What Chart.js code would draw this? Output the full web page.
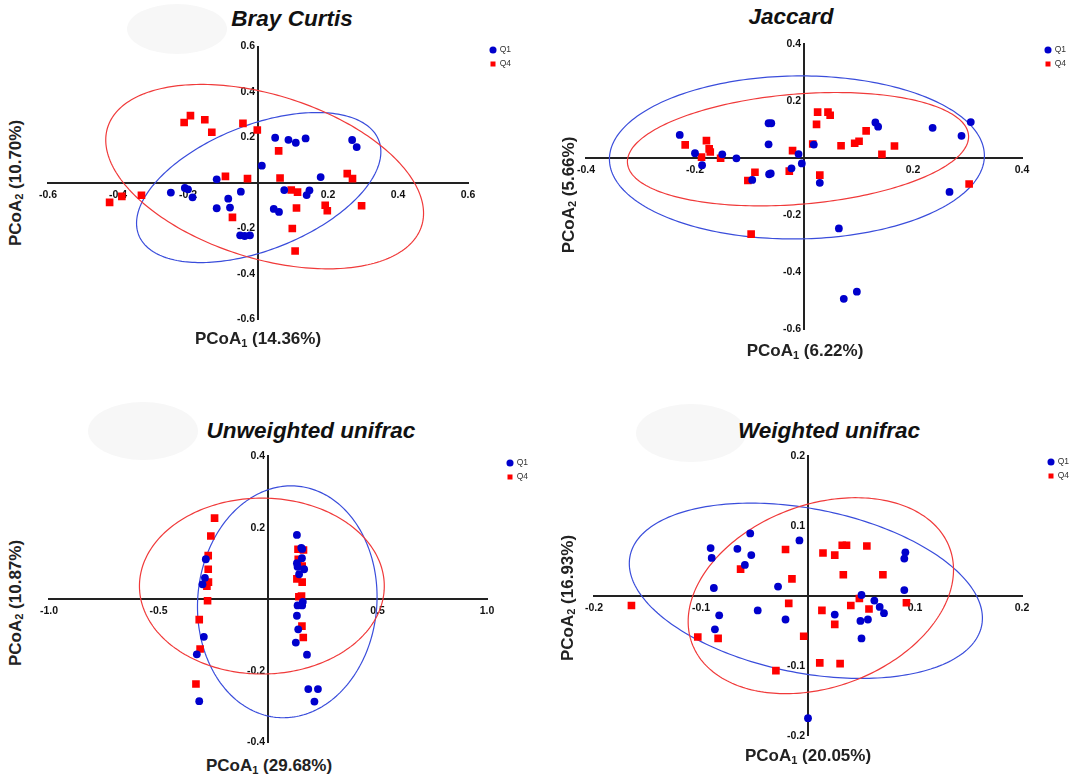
<!DOCTYPE html>
<html>
<head>
<meta charset="utf-8">
<script src="https://cdn.jsdelivr.net/npm/chart.js@4.4.1/dist/chart.umd.min.js"></script>
<style>
  body { margin: 0; background: #fff; width: 1072px; height: 778px; position: relative; overflow: hidden;
         font-family: "Liberation Sans", Arial, sans-serif; }
  canvas { position: absolute; }
  .blob { position: absolute; background: #f7f7f7; border-radius: 50%; }
  .title { position: absolute; font-weight: bold; font-style: italic; font-size: 22.5px; line-height: 22.5px;
           color: #111; transform: translateX(-50%); white-space: nowrap; }
  .xlab { position: absolute; font-weight: bold; font-size: 17px; line-height: 17px; color: #222;
          transform: translateX(-50%); white-space: nowrap; }
  .ylab { position: absolute; font-weight: bold; font-size: 17px; line-height: 17px; color: #222;
          transform: translate(-50%, -50%) rotate(-90deg); white-space: nowrap; }
  sub { font-size: 0.65em; vertical-align: -0.25em; line-height: 0; }
</style>
</head>
<body>

<div class="blob" style="left:127px;top:4px;width:100px;height:50px"></div>
<div class="blob" style="left:88px;top:402px;width:110px;height:58px"></div>
<div class="blob" style="left:636px;top:404px;width:110px;height:58px"></div>

<canvas id="bray" width="510" height="298" style="left:28px;top:34px"></canvas>
<canvas id="jaccard" width="506" height="310" style="left:566px;top:32px"></canvas>
<canvas id="unweighted" width="518" height="311" style="left:29px;top:444px"></canvas>
<canvas id="weighted" width="498" height="305" style="left:574px;top:443px"></canvas>

<div class="title" style="left:292px;top:7.5px">Bray Curtis</div>
<div class="title" style="left:791px;top:6px">Jaccard</div>
<div class="title" style="left:311px;top:420px">Unweighted unifrac</div>
<div class="title" style="left:829px;top:420px">Weighted unifrac</div>

<div class="xlab" style="left:258px;top:329.5px">PCoA<sub>1</sub> (14.36%)</div>
<div class="xlab" style="left:805px;top:341.5px">PCoA<sub>1</sub> (6.22%)</div>
<div class="xlab" style="left:269px;top:756.5px">PCoA<sub>1</sub> (29.68%)</div>
<div class="xlab" style="left:808px;top:747px">PCoA<sub>1</sub> (20.05%)</div>

<div class="ylab" style="left:15px;top:183px">PCoA<sub>2</sub> (10.70%)</div>
<div class="ylab" style="left:568px;top:195px">PCoA<sub>2</sub> (5.66%)</div>
<div class="ylab" style="left:15px;top:603px">PCoA<sub>2</sub> (10.87%)</div>
<div class="ylab" style="left:567px;top:598px">PCoA<sub>2</sub> (16.93%)</div>

<script>
// PCoA coordinates [PCoA1, PCoA2]

// Bray Curtis
const brayQ1 = [
  [-0.118, 0.016], [-0.249, -0.042], [-0.209, -0.022], [-0.200, -0.028], [-0.187, -0.063],
  [-0.085, -0.069], [-0.049, -0.038], [-0.118, -0.111], [-0.080, -0.108], [-0.051, -0.230],
  [-0.038, -0.233], [-0.023, -0.230], [0.049, 0.199], [0.087, 0.190], [0.108, 0.177],
  [0.136, 0.196], [0.269, 0.189], [0.282, 0.158], [0.011, 0.076], [0.179, 0.026],
  [0.075, -0.031], [0.147, -0.032], [0.139, -0.053], [0.045, -0.114], [0.060, -0.127]
];
const brayQ4 = [
  [-0.211, 0.266], [-0.193, 0.296], [-0.152, 0.278], [-0.132, 0.223], [-0.043, 0.262],
  [-0.002, 0.233], [-0.093, 0.029], [-0.030, 0.019], [-0.333, -0.054], [-0.389, -0.059],
  [-0.424, -0.085], [-0.073, -0.151], [0.059, 0.141], [0.063, 0.022], [0.095, -0.031],
  [0.113, -0.040], [0.110, -0.110], [0.192, -0.098], [0.198, -0.122], [0.098, -0.200],
  [0.255, 0.041], [0.270, 0.019], [0.296, -0.100], [0.106, -0.299]
];

// Jaccard
const jaccardQ1 = [
  [-0.228, 0.082], [-0.200, 0.018], [-0.187, -0.024], [-0.150, 0.014], [-0.124, 0.000],
  [-0.065, 0.123], [-0.060, 0.123], [-0.065, 0.049], [-0.095, -0.076], [-0.064, -0.056],
  [-0.061, -0.053], [-0.023, -0.035], [-0.010, 0.015], [0.018, 0.048], [-0.004, -0.018],
  [0.029, -0.086], [0.131, 0.126], [0.136, 0.111], [0.236, 0.107], [0.289, 0.079],
  [0.306, 0.127], [0.267, -0.118], [0.064, -0.246], [0.097, -0.468], [0.073, -0.493]
];
const jaccardQ4 = [
  [-0.218, 0.047], [-0.179, 0.062], [-0.174, 0.033], [-0.172, 0.022], [-0.188, 0.004],
  [-0.153, 0.000], [-0.090, -0.049], [-0.103, -0.078], [-0.021, 0.027], [-0.027, -0.045],
  [0.025, 0.162], [0.044, 0.162], [0.048, 0.151], [0.023, 0.119], [0.016, 0.050],
  [0.068, 0.044], [0.093, 0.053], [0.101, 0.060], [0.114, 0.096], [0.143, 0.014],
  [0.166, 0.043], [0.029, -0.059], [0.303, -0.090], [-0.097, -0.266]
];

// Unweighted unifrac
const unweightedQ1 = [
  [-0.284, 0.112], [-0.288, 0.060], [-0.299, 0.042], [-0.293, -0.105], [-0.325, -0.154],
  [-0.314, -0.285], [0.132, 0.180], [0.152, 0.144], [0.156, 0.141], [0.155, 0.115],
  [0.132, 0.101], [0.135, 0.091], [0.165, 0.084], [0.142, 0.070], [0.135, -0.017],
  [0.156, -0.017], [0.159, -0.007], [0.132, -0.046], [0.138, -0.084], [0.127, -0.121],
  [0.178, -0.155], [0.184, -0.251], [0.228, -0.251], [0.212, -0.286]
];
const unweightedQ4 = [
  [-0.244, 0.227], [-0.261, 0.177], [-0.273, 0.122], [-0.273, 0.084], [-0.272, 0.048],
  [-0.279, 0.037], [-0.276, -0.004], [-0.314, -0.057], [-0.310, -0.139], [-0.329, -0.237],
  [0.137, 0.140], [0.162, 0.138], [0.138, 0.112], [0.156, 0.093], [0.132, 0.057],
  [0.156, 0.048], [0.141, 0.007], [0.153, 0.009], [0.155, -0.075], [0.161, -0.107]
];

// Weighted unifrac
const weightedQ1 = [
  [-0.091, 0.068], [-0.090, 0.054], [-0.066, 0.067], [-0.054, 0.089], [-0.053, 0.058],
  [-0.059, 0.044], [-0.088, 0.011], [-0.028, 0.013], [-0.008, 0.079], [-0.083, -0.028],
  [-0.087, -0.048], [-0.047, -0.021], [-0.021, -0.034], [0.091, 0.062], [0.090, 0.053],
  [0.090, 0.008], [0.050, 0.001], [0.062, -0.007], [0.067, -0.016], [0.071, -0.025],
  [0.056, -0.034], [0.049, -0.036], [0.025, -0.027], [0.050, -0.061], [0.000, -0.175]
];
const weightedQ4 = [
  [-0.165, -0.014], [-0.063, 0.038], [-0.021, 0.066], [-0.015, 0.024], [-0.018, -0.011],
  [-0.103, -0.059], [-0.084, -0.061], [-0.004, -0.058], [0.014, 0.061], [0.025, 0.058],
  [0.032, 0.072], [0.036, 0.072], [0.055, 0.071], [0.033, 0.030], [0.070, 0.030],
  [0.048, -0.004], [0.040, -0.014], [0.057, -0.019], [0.092, -0.010], [0.013, -0.021],
  [0.025, -0.041], [0.011, -0.096], [0.030, -0.097], [-0.030, -0.107]
];

// 95% ellipses: [centre x, centre y, half-axis x, half-axis y, vertical half-chord]
const brayEllQ1 = [0.002, -0.020, 0.349, 0.157, 0.290];
const brayEllQ4 = [0.019, 0.028, 0.454, -0.161, 0.372];
const jaccardEllQ1 = [-0.013, 0.003, 0.344, 0.006, 0.286];
const jaccardEllQ4 = [-0.011, 0.032, 0.313, 0.044, 0.194];
const unweightedEllQ1 = [0.088, -0.007, 0.410, 0.014, 0.324];
const unweightedEllQ4 = [-0.028, 0.037, 0.559, 0.000, 0.246];
const weightedEllQ1 = [-0.002, 0.007, 0.165, -0.039, 0.119];
const weightedEllQ4 = [0.012, 0.000, 0.124, 0.037, 0.135];

// axis ranges [min, max, step]
const brayX = [-0.6, 0.6, 0.2], brayY = [-0.6, 0.6, 0.2];
const jaccardX = [-0.4, 0.4, 0.2], jaccardY = [-0.6, 0.4, 0.2];
const unweightedX = [-1.0, 1.0, 0.5], unweightedY = [-0.4, 0.4, 0.2];
const weightedX = [-0.2, 0.2, 0.1], weightedY = [-0.2, 0.2, 0.1];

const BLUE = '#0000cc';
const RED = '#ff0000';
const tickFont = { family: 'Liberation Sans', size: 10.5, weight: 'bold' };

// draw the ellipses through the chart scales
const ellipsePlugin = {
  id: 'ellipses',
  beforeDatasetsDraw(chart, args, opts) {
    const ctx = chart.ctx;
    const sx = chart.scales.x, sy = chart.scales.y;
    opts.list.forEach(function (item) {
      const e = item.e;
      ctx.save();
      ctx.strokeStyle = item.color;
      ctx.lineWidth = 1.2;
      ctx.beginPath();
      for (let i = 0; i <= 240; i++) {
        const t = i / 240 * Math.PI * 2;
        const vx = e[0] + e[2] * Math.cos(t);
        const vy = e[1] + e[3] * Math.cos(t) + e[4] * Math.sin(t);
        const px = sx.getPixelForValue(vx), py = sy.getPixelForValue(vy);
        if (i === 0) ctx.moveTo(px, py); else ctx.lineTo(px, py);
      }
      ctx.closePath();
      ctx.stroke();
      ctx.restore();
    });
  }
};

// put the little legend just right of the plot, near the top
const legendSpot = {
  id: 'legendSpot',
  afterLayout(chart, args, opts) {
    const lg = chart.legend;
    const ca = chart.chartArea;
    const lab = chart.options.plugins.legend.labels;
    const w = lg.width;
    lg.left = ca.right + opts.mx - lab.padding - lab.boxWidth / 2;
    lg.right = lg.left + w;
    lg.top = ca.top + opts.my - lab.padding - lab.font.size / 2;
    lg.bottom = lg.top + 80;
    lg.height = 80;
  }
};

function pts(arr) {
  return arr.map(function (p) { return { x: p[0], y: p[1] }; });
}

function axis(range, isX) {
  return {
    type: 'linear',
    min: range[0],
    max: range[1],
    position: isX ? { y: 0 } : 'center',
    grid: { display: false, drawTicks: false },
    border: { display: true, color: '#222', width: 2 },
    ticks: {
      stepSize: range[2],
      autoSkip: false,
      maxRotation: 0,
      padding: isX ? 6 : 3,
      color: '#111',
      font: tickFont,
      callback: function (v) { return Math.abs(v) < 1e-9 ? '' : Number(v).toFixed(1); }
    }
  };
}

function pcoaPlot(id, q1, q4, ellQ1, ellQ4, xr, yr, pad, mx, my) {
  return new Chart(document.getElementById(id), {
    type: 'scatter',
    data: {
      datasets: [
        { label: 'Q1', data: pts(q1), pointStyle: 'circle', pointRadius: 3.9,
          backgroundColor: BLUE, borderColor: BLUE, borderWidth: 0 },
        { label: 'Q4', data: pts(q4), pointStyle: 'rect', pointRadius: 5.4,
          backgroundColor: RED, borderColor: RED, borderWidth: 0 }
      ]
    },
    options: {
      responsive: false,
      animation: false,
      layout: { padding: pad, autoPadding: false },
      plugins: {
        legend: {
          position: 'chartArea',
          align: 'start',
          labels: {
            usePointStyle: true, boxWidth: 5, boxHeight: 5, padding: 5.5,
            color: '#333', font: { family: 'Liberation Sans', size: 8.5 }
          }
        },
        tooltip: { enabled: false },
        ellipses: { list: [ { e: ellQ1, color: '#3a4ddb' }, { e: ellQ4, color: '#f03a3a' } ] },
        legendSpot: { mx: mx, my: my }
      },
      scales: { x: axis(xr, true), y: axis(yr, false) }
    },
    plugins: [ellipsePlugin, legendSpot]
  });
}

pcoaPlot('bray', brayQ1, brayQ4, brayEllQ1, brayEllQ4, brayX, brayY,
  { left: 20, top: 12.5, right: 70, bottom: 12.5 }, 25, 3.5);
pcoaPlot('jaccard', jaccardQ1, jaccardQ4, jaccardEllQ1, jaccardEllQ4, jaccardX, jaccardY,
  { left: 20, top: 12.3, right: 50, bottom: 12.7 }, 26, 5.7);
pcoaPlot('unweighted', unweightedQ1, unweightedQ4, unweightedEllQ1, unweightedEllQ4, unweightedX, unweightedY,
  { left: 20, top: 12.3, right: 60, bottom: 12.7 }, 23, 6.7);
pcoaPlot('weighted', weightedQ1, weightedQ4, weightedEllQ1, weightedEllQ4, weightedX, weightedY,
  { left: 20, top: 12.7, right: 50, bottom: 12.3 }, 29, 6.3);
</script>
</body>
</html>
